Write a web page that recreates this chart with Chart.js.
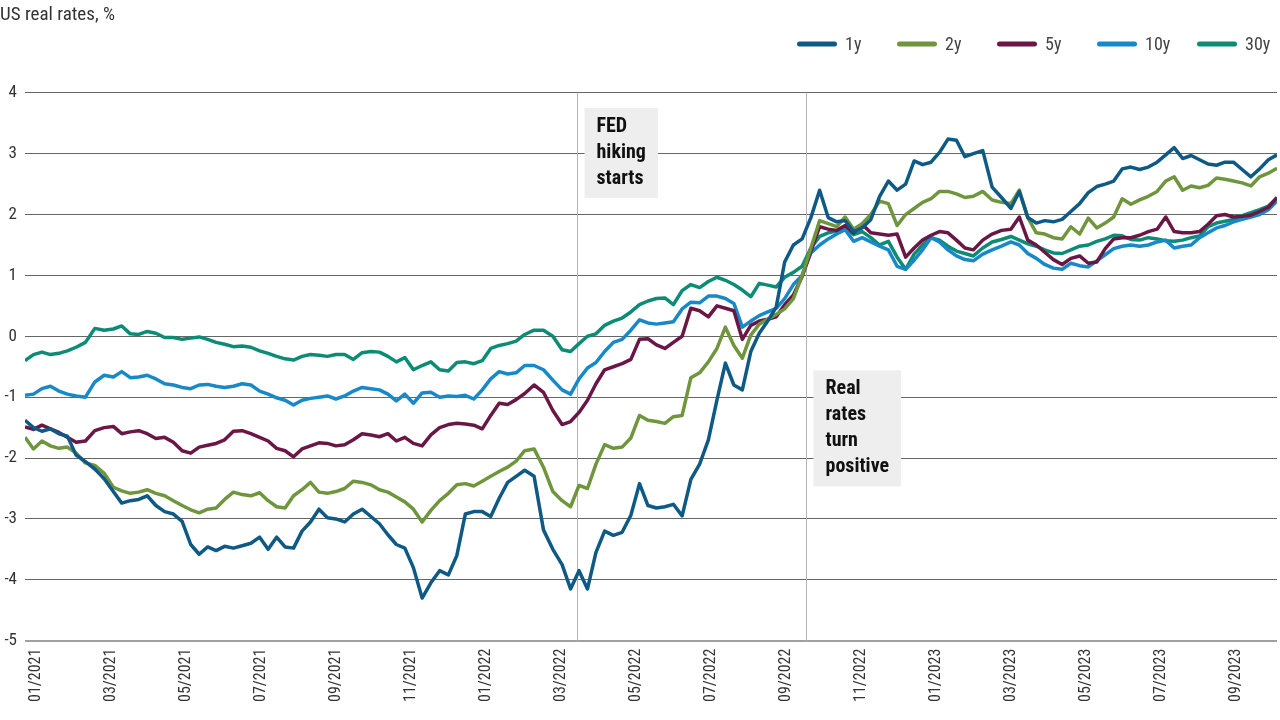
<!DOCTYPE html>
<html>
<head>
<meta charset="utf-8">
<script src="https://cdn.jsdelivr.net/npm/chart.js@4.4.0/dist/chart.umd.min.js"></script>
<style>
  html, body { margin: 0; padding: 0; background: #fff; }
  #wrap { width: 1280px; height: 720px; }
</style>
</head>
<body>
<div id="wrap"><canvas id="myChart" width="1280" height="720"></canvas></div>
<script>
// weekly readings, first week starts 23 Dec 2020
var startDate = "2020-12-23";
var seriesNames = ["1y", "2y", "5y", "10y", "30y"];
var seriesColors = ["#0e5a85", "#6f963d", "#6b1745", "#1788c8", "#0c8c74"];
var tickLabels = ["01/2021", "03/2021", "05/2021", "07/2021", "09/2021", "11/2021",
  "01/2022", "03/2022", "05/2022", "07/2022", "09/2022", "11/2022",
  "01/2023", "03/2023", "05/2023", "07/2023", "09/2023"];
var yTicks = [4, 3, 2, 1, 0, -1, -2, -3, -4, -5];

var rate1y = [
  -1.38,-1.50,-1.56,-1.52,-1.60,-1.64,-1.95,-2.06,-2.18,-2.34,
  -2.55,-2.74,-2.70,-2.68,-2.62,-2.78,-2.88,-2.92,-3.04,-3.42,
  -3.58,-3.46,-3.52,-3.45,-3.48,-3.44,-3.40,-3.30,-3.50,-3.30,
  -3.46,-3.48,-3.20,-3.05,-2.84,-2.98,-3.00,-3.05,-2.92,-2.84,
  -2.96,-3.08,-3.26,-3.42,-3.48,-3.80,-4.30,-4.05,-3.85,-3.92,
  -3.60,-2.92,-2.88,-2.88,-2.96,-2.66,-2.40,-2.30,-2.20,-2.30,
  -3.18,-3.50,-3.75,-4.15,-3.85,-4.15,-3.55,-3.20,-3.27,-3.22,
  -2.94,-2.42,-2.78,-2.82,-2.80,-2.76,-2.95,-2.35,-2.10,-1.70,
  -1.05,-0.44,-0.80,-0.88,-0.25,0.05,0.25,0.48,1.22,1.50,
  1.60,1.95,2.40,1.95,1.88,1.90,1.72,1.78,1.92,2.30,
  2.55,2.40,2.50,2.88,2.82,2.86,3.02,3.24,3.22,2.95,
  3.00,3.05,2.45,2.28,2.10,2.38,1.95,1.86,1.90,1.88,
  1.92,2.05,2.18,2.36,2.46,2.50,2.55,2.75,2.78,2.74,
  2.78,2.86,2.98,3.10,2.92,2.97,2.90,2.83,2.81,2.86,
  2.86,2.74,2.62,2.75,2.90,2.98
];
var rate2y = [
  -1.66,-1.85,-1.72,-1.80,-1.84,-1.82,-1.92,-2.08,-2.12,-2.25,
  -2.48,-2.54,-2.58,-2.56,-2.52,-2.58,-2.62,-2.70,-2.78,-2.85,
  -2.90,-2.84,-2.82,-2.68,-2.56,-2.60,-2.62,-2.57,-2.70,-2.80,
  -2.82,-2.62,-2.52,-2.40,-2.56,-2.58,-2.55,-2.50,-2.38,-2.40,
  -2.44,-2.52,-2.56,-2.64,-2.72,-2.84,-3.05,-2.86,-2.70,-2.58,
  -2.44,-2.42,-2.46,-2.38,-2.30,-2.22,-2.15,-2.05,-1.88,-1.85,
  -2.15,-2.55,-2.70,-2.80,-2.45,-2.50,-2.10,-1.78,-1.84,-1.82,
  -1.67,-1.30,-1.38,-1.40,-1.43,-1.32,-1.30,-0.68,-0.60,-0.42,
  -0.20,0.15,-0.15,-0.36,0.02,0.20,0.28,0.36,0.45,0.62,
  1.00,1.45,1.90,1.85,1.80,1.96,1.76,1.85,2.00,2.22,
  2.18,1.82,2.00,2.10,2.20,2.26,2.38,2.38,2.34,2.28,
  2.30,2.38,2.24,2.20,2.18,2.40,1.95,1.70,1.68,1.62,
  1.60,1.80,1.68,1.94,1.78,1.86,1.96,2.26,2.17,2.24,
  2.30,2.38,2.55,2.62,2.40,2.47,2.44,2.48,2.60,2.58,
  2.55,2.52,2.47,2.62,2.68,2.76
];
var rate5y = [
  -1.49,-1.53,-1.46,-1.52,-1.58,-1.66,-1.74,-1.72,-1.55,-1.50,
  -1.48,-1.60,-1.57,-1.55,-1.60,-1.68,-1.66,-1.74,-1.88,-1.92,
  -1.82,-1.79,-1.76,-1.70,-1.56,-1.55,-1.60,-1.66,-1.72,-1.84,
  -1.88,-1.98,-1.85,-1.80,-1.75,-1.76,-1.80,-1.78,-1.70,-1.60,
  -1.62,-1.65,-1.60,-1.72,-1.66,-1.76,-1.80,-1.62,-1.50,-1.45,
  -1.43,-1.44,-1.46,-1.52,-1.30,-1.10,-1.12,-1.04,-0.94,-0.80,
  -0.92,-1.22,-1.45,-1.40,-1.25,-1.05,-0.78,-0.55,-0.50,-0.45,
  -0.38,-0.05,-0.04,-0.14,-0.20,-0.10,0.00,0.46,0.42,0.32,
  0.50,0.46,0.42,-0.05,0.18,0.25,0.28,0.32,0.52,0.68,
  0.98,1.40,1.80,1.76,1.74,1.82,1.70,1.84,1.70,1.68,
  1.66,1.68,1.30,1.45,1.58,1.66,1.72,1.70,1.58,1.45,
  1.42,1.58,1.68,1.74,1.76,1.96,1.58,1.50,1.38,1.26,
  1.18,1.28,1.32,1.20,1.22,1.44,1.60,1.62,1.62,1.66,
  1.72,1.76,1.96,1.72,1.70,1.70,1.72,1.84,1.98,2.00,
  1.96,1.97,1.99,2.05,2.12,2.28
];
var rate10y = [
  -0.97,-0.95,-0.86,-0.82,-0.90,-0.95,-0.98,-1.00,-0.75,-0.64,
  -0.67,-0.58,-0.68,-0.67,-0.64,-0.70,-0.78,-0.80,-0.84,-0.86,
  -0.80,-0.79,-0.82,-0.84,-0.82,-0.78,-0.80,-0.90,-0.95,-1.01,
  -1.05,-1.13,-1.05,-1.02,-1.00,-0.98,-1.03,-0.98,-0.90,-0.84,
  -0.86,-0.88,-0.95,-1.06,-0.95,-1.10,-0.93,-0.92,-1.00,-0.98,
  -0.99,-0.97,-1.03,-0.88,-0.70,-0.58,-0.62,-0.60,-0.48,-0.48,
  -0.55,-0.72,-0.88,-0.95,-0.70,-0.52,-0.43,-0.25,-0.10,-0.05,
  0.10,0.27,0.22,0.20,0.22,0.24,0.45,0.56,0.55,0.66,
  0.66,0.62,0.54,0.15,0.25,0.34,0.40,0.46,0.62,0.85,
  1.00,1.37,1.50,1.60,1.68,1.75,1.56,1.62,1.55,1.48,
  1.42,1.15,1.10,1.25,1.42,1.62,1.55,1.42,1.32,1.26,
  1.24,1.35,1.42,1.48,1.55,1.50,1.36,1.28,1.18,1.12,
  1.10,1.20,1.16,1.14,1.24,1.34,1.44,1.48,1.50,1.48,
  1.50,1.55,1.58,1.45,1.48,1.50,1.62,1.70,1.78,1.82,
  1.88,1.92,1.96,2.00,2.08,2.22
];
var rate30y = [
  -0.40,-0.30,-0.26,-0.30,-0.28,-0.24,-0.18,-0.10,0.13,0.10,
  0.12,0.17,0.04,0.03,0.08,0.05,-0.02,-0.02,-0.05,-0.03,
  -0.01,-0.05,-0.10,-0.13,-0.17,-0.16,-0.18,-0.24,-0.28,-0.33,
  -0.37,-0.39,-0.33,-0.30,-0.31,-0.33,-0.30,-0.30,-0.38,-0.27,
  -0.25,-0.26,-0.33,-0.42,-0.35,-0.55,-0.48,-0.42,-0.55,-0.57,
  -0.43,-0.42,-0.45,-0.40,-0.20,-0.15,-0.12,-0.08,0.03,0.10,
  0.10,0.00,-0.22,-0.25,-0.12,0.00,0.04,0.18,0.25,0.30,
  0.40,0.52,0.58,0.62,0.63,0.52,0.75,0.85,0.80,0.90,
  0.97,0.92,0.85,0.76,0.65,0.87,0.84,0.81,0.97,1.05,
  1.15,1.45,1.64,1.70,1.73,1.78,1.67,1.72,1.62,1.50,
  1.56,1.30,1.10,1.35,1.50,1.62,1.58,1.48,1.40,1.36,
  1.32,1.45,1.55,1.59,1.64,1.58,1.52,1.48,1.42,1.37,
  1.36,1.42,1.48,1.50,1.56,1.60,1.66,1.65,1.59,1.58,
  1.62,1.60,1.57,1.56,1.58,1.62,1.65,1.80,1.86,1.89,
  1.92,1.98,2.03,2.08,2.14,2.27
];
var seriesValues = [rate1y, rate2y, rate5y, rate10y, rate30y];

var annotations = [
  { date: "2022-03-14", lines: ["FED", "hiking", "starts"], top: 3.75 },
  { date: "2022-09-17", lines: ["Real", "rates", "turn", "positive"], top: -0.56 }
];

var fontFamily = "'Roboto Condensed', 'Liberation Sans Narrow', Roboto, sans-serif";

// months since Jan 2021, as a fraction
function toMonth(y, m, d) {
  var dim = new Date(y, m, 0).getDate();
  return (y - 2021) * 12 + (m - 1) + (d - 1) / dim;
}
function dateToMonth(str) {
  var p = str.split("-").map(Number);
  return toMonth(p[0], p[1], p[2]);
}
function labelToMonth(lbl) {
  var p = lbl.split("/").map(Number);
  return toMonth(p[1], p[0], 1);
}

var t0 = new Date(startDate + "T00:00:00Z").getTime();
var weekX = rate1y.map(function (v, i) {
  var d = new Date(t0 + i * 7 * 86400000);
  return toMonth(d.getUTCFullYear(), d.getUTCMonth() + 1, d.getUTCDate());
});

var tickMonths = tickLabels.map(labelToMonth);

var datasets = seriesNames.map(function (name, k) {
  return {
    label: name,
    data: seriesValues[k].map(function (v, i) { return { x: weekX[i], y: v }; }),
    borderColor: seriesColors[k],
    backgroundColor: seriesColors[k],
    borderWidth: 3.5,
    borderJoinStyle: "round",
    pointRadius: 0,
    tension: 0
  };
});

var annotationPlugin = {
  id: "notes",
  beforeDatasetsDraw: function (chart) {
    var ctx = chart.ctx, area = chart.chartArea;
    var xs = chart.scales.x, ys = chart.scales.y;
    ctx.save();
    annotations.forEach(function (a) {
      var px = Math.round(xs.getPixelForValue(dateToMonth(a.date))) + 0.5;
      ctx.strokeStyle = "#b3b3b3";
      ctx.lineWidth = 1;
      ctx.beginPath();
      ctx.moveTo(px, area.top);
      ctx.lineTo(px, area.bottom);
      ctx.stroke();

      ctx.font = "bold 20px " + fontFamily;
      var w = 0;
      a.lines.forEach(function (l) { w = Math.max(w, ctx.measureText(l).width); });
      var bx = px + 7, by = ys.getPixelForValue(a.top);
      var bw = w + 24, bh = a.lines.length * 26 + 12;
      ctx.fillStyle = "#eeeeee";
      ctx.fillRect(bx, by, bw, bh);
      ctx.fillStyle = "#111111";
      ctx.textBaseline = "top";
      ctx.textAlign = "left";
      a.lines.forEach(function (l, i) { ctx.fillText(l, bx + 12, by + 9 + i * 26); });
    });
    ctx.restore();
  }
};

var legendPlugin = {
  id: "lineLegend",
  afterDraw: function (chart) {
    var ctx = chart.ctx;
    var right = 1277, pitch = 100, cy = 44;
    ctx.save();
    ctx.font = "18px " + fontFamily;
    ctx.textBaseline = "middle";
    ctx.textAlign = "left";
    seriesNames.forEach(function (name, i) {
      var x = right - 80 - (seriesNames.length - 1 - i) * pitch;
      ctx.strokeStyle = seriesColors[i];
      ctx.lineWidth = 5;
      ctx.lineCap = "round";
      ctx.beginPath();
      ctx.moveTo(x + 2.5, cy);
      ctx.lineTo(x + 37.5, cy);
      ctx.stroke();
      ctx.fillStyle = "#444";
      ctx.fillText(name, x + 48, cy + 1);
    });
    ctx.restore();
  }
};

Chart.defaults.font.family = fontFamily;
Chart.defaults.color = "#333";

new Chart("myChart", {
  type: "line",
  data: { datasets: datasets },
  plugins: [annotationPlugin, legendPlugin],
  options: {
    responsive: false,
    animation: false,
    layout: { padding: { left: 0, right: 3, top: 0, bottom: 10 } },
    plugins: {
      legend: { display: false },
      tooltip: { enabled: false },
      title: {
        display: true,
        text: "US real rates, %",
        align: "start",
        color: "#333",
        font: { size: 19, weight: "normal" },
        padding: { top: 4, bottom: 66 }
      }
    },
    scales: {
      x: {
        type: "linear",
        min: weekX[0],
        max: weekX[weekX.length - 1],
        grid: { display: false, drawTicks: false },
        border: { display: false },
        afterBuildTicks: function (scale) {
          scale.ticks = tickMonths.map(function (m) { return { value: m }; });
        },
        ticks: {
          autoSkip: false,
          minRotation: 90,
          maxRotation: 90,
          padding: 8,
          color: "#333",
          font: { size: 16 },
          callback: function (v) {
            var i = tickMonths.indexOf(v);
            return i >= 0 ? tickLabels[i] : "";
          }
        }
      },
      y: {
        min: -5,
        max: 4,
        afterBuildTicks: function (scale) {
          scale.ticks = yTicks.map(function (v) { return { value: v }; });
        },
        afterFit: function (scale) { scale.width = 25; },
        border: { display: false },
        grid: {
          drawTicks: false,
          color: function (c) { return c.tick && c.tick.value === -5 ? "#a0a0a0" : "#666"; },
          lineWidth: function (c) { return c.tick && c.tick.value === -5 ? 2 : 1; }
        },
        ticks: {
          padding: 8,
          color: "#333",
          font: { size: 17 }
        }
      }
    }
  }
});
</script>
</body>
</html>
